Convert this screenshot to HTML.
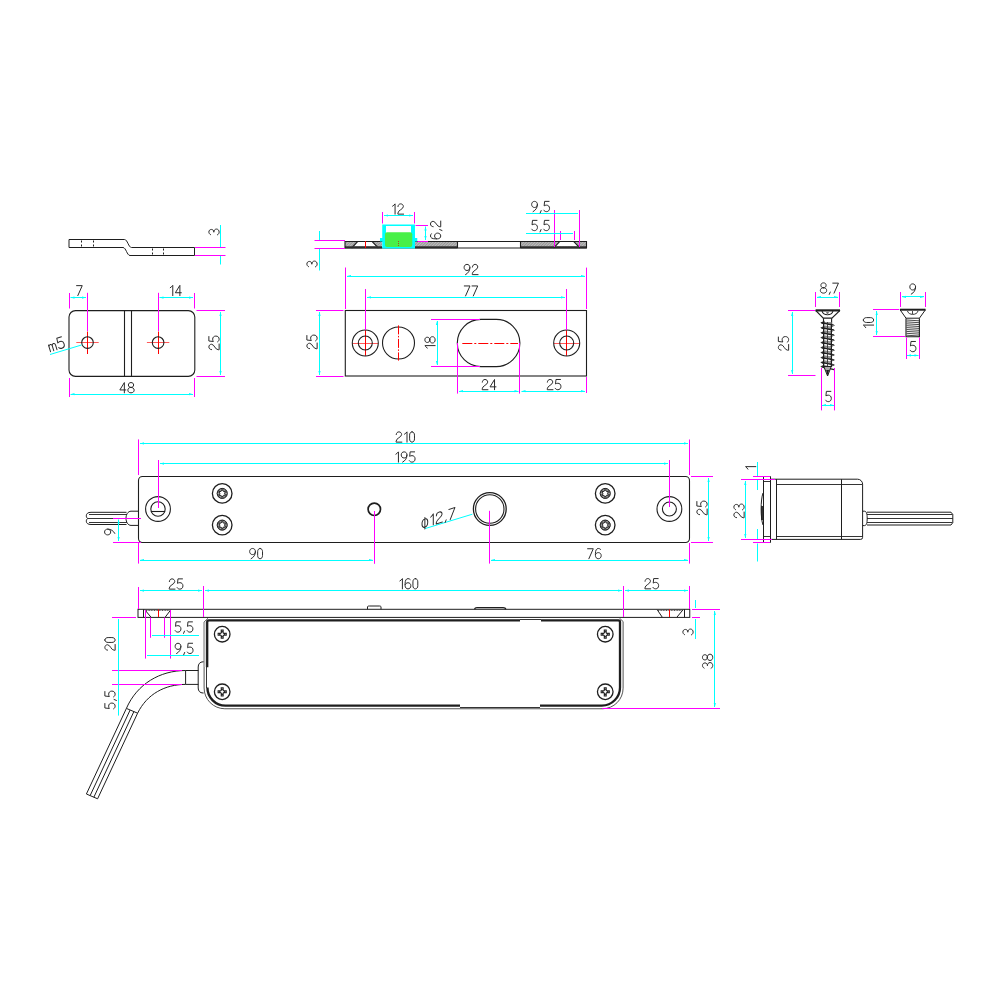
<!DOCTYPE html>
<html><head><meta charset="utf-8"><title>Drawing</title>
<style>html,body{margin:0;padding:0;background:#fff;width:1000px;height:1000px;overflow:hidden;font-family:"Liberation Sans",sans-serif;}svg{display:block;}</style>
</head><body>
<svg width="1000" height="1000" viewBox="0 0 1000 1000"><path d="M69,239.5 H124.5 C127.5,239.5 128.5,247.5 131.5,247.5 H194.5 V255.5 H130 C127,255.5 126,247.5 123,247.5 H69 Z" stroke="#1e1e1e" stroke-width="1.0" fill="none"/>
<line x1="81.5" y1="240.5" x2="81.5" y2="246.5" stroke="#1e1e1e" stroke-width="1.0" stroke-dasharray="2,2"/>
<line x1="93.5" y1="240.5" x2="93.5" y2="246.5" stroke="#1e1e1e" stroke-width="1.0" stroke-dasharray="2,2"/>
<line x1="152.5" y1="248.5" x2="152.5" y2="254.5" stroke="#1e1e1e" stroke-width="1.0" stroke-dasharray="2,2"/>
<line x1="163.5" y1="248.5" x2="163.5" y2="254.5" stroke="#1e1e1e" stroke-width="1.0" stroke-dasharray="2,2"/>
<line x1="195" y1="247.5" x2="225.5" y2="247.5" stroke="#ff00ff" stroke-width="1.0"/>
<line x1="195" y1="255.5" x2="225.5" y2="255.5" stroke="#ff00ff" stroke-width="1.0"/>
<line x1="220.5" y1="225" x2="220.5" y2="247" stroke="#00ffff" stroke-width="1.0"/>
<line x1="220.5" y1="256" x2="220.5" y2="264.5" stroke="#00ffff" stroke-width="1.0"/>
<g transform="translate(214,232) rotate(-90) scale(0.9) translate(-3.25,-5.70)" fill="none" stroke="#2a2a2a" stroke-width="1.11" stroke-linecap="round" stroke-linejoin="round"><path transform="translate(0.00,0)" d="M0.3,1.8 C0.9,0.7 2,0 3.2,0 C4.9,0 6.1,1.1 6.1,2.8 C6.1,4.5 4.9,5.5 3.0,5.5 C5.1,5.5 6.5,6.7 6.5,8.4 C6.5,10.2 5.1,11.4 3.2,11.4 C1.8,11.4 0.7,10.8 0.1,9.6"/></g>
<rect x="69" y="310.6" width="125.8" height="65.8" rx="6.5" fill="none" stroke="#1e1e1e" stroke-width="1.1"/>
<line x1="124.5" y1="310.6" x2="124.5" y2="376.4" stroke="#1e1e1e" stroke-width="1.1"/>
<line x1="131.5" y1="310.6" x2="131.5" y2="376.4" stroke="#1e1e1e" stroke-width="1.1"/>
<line x1="76.3" y1="342.5" x2="98.7" y2="342.5" stroke="#ff5a5a" stroke-width="1.0"/>
<line x1="87.5" y1="331.5" x2="87.5" y2="354" stroke="#ff0000" stroke-width="1.0"/>
<circle cx="87.5" cy="342.6" r="5.8" stroke="#1e1e1e" stroke-width="1.1" fill="none"/>
<line x1="87.5" y1="292.8" x2="87.5" y2="331" stroke="#ff00ff" stroke-width="1.0"/>
<line x1="146.9" y1="342.5" x2="169.29999999999998" y2="342.5" stroke="#ff5a5a" stroke-width="1.0"/>
<line x1="158.5" y1="331.5" x2="158.5" y2="354" stroke="#ff0000" stroke-width="1.0"/>
<circle cx="158.1" cy="342.6" r="5.8" stroke="#1e1e1e" stroke-width="1.1" fill="none"/>
<line x1="158.5" y1="292.8" x2="158.5" y2="331" stroke="#ff00ff" stroke-width="1.0"/>
<line x1="69.5" y1="293" x2="69.5" y2="308.5" stroke="#ff00ff" stroke-width="1.0"/>
<line x1="69.5" y1="378" x2="69.5" y2="397" stroke="#ff00ff" stroke-width="1.0"/>
<line x1="194.5" y1="293" x2="194.5" y2="308.5" stroke="#ff00ff" stroke-width="1.0"/>
<line x1="194.5" y1="378" x2="194.5" y2="397" stroke="#ff00ff" stroke-width="1.0"/>
<line x1="70.5" y1="297.5" x2="86" y2="297.5" stroke="#00ffff" stroke-width="1.0"/>
<path d="M70.50,297.60 L74.50,298.70 L74.50,296.50 Z" fill="#00ffff"/>
<path d="M86.00,297.60 L82.00,298.70 L82.00,296.50 Z" fill="#00ffff"/>
<line x1="159.5" y1="297.5" x2="193" y2="297.5" stroke="#00ffff" stroke-width="1.0"/>
<path d="M159.50,297.60 L163.50,298.70 L163.50,296.50 Z" fill="#00ffff"/>
<path d="M193.00,297.60 L189.00,298.70 L189.00,296.50 Z" fill="#00ffff"/>
<line x1="70.5" y1="394.5" x2="193" y2="394.5" stroke="#00ffff" stroke-width="1.0"/>
<path d="M70.50,394.20 L74.50,395.30 L74.50,393.10 Z" fill="#00ffff"/>
<path d="M193.00,394.20 L189.00,395.30 L189.00,393.10 Z" fill="#00ffff"/>
<line x1="196.5" y1="310.5" x2="225" y2="310.5" stroke="#ff00ff" stroke-width="1.0"/>
<line x1="196.5" y1="376.5" x2="225" y2="376.5" stroke="#ff00ff" stroke-width="1.0"/>
<line x1="220.5" y1="312" x2="220.5" y2="375" stroke="#00ffff" stroke-width="1.0"/>
<path d="M220.50,312.00 L219.40,316.00 L221.60,316.00 Z" fill="#00ffff"/>
<path d="M220.50,375.00 L219.40,371.00 L221.60,371.00 Z" fill="#00ffff"/>
<line x1="50" y1="354.5" x2="81.5" y2="345" stroke="#00ffff" stroke-width="1.0"/>
<g transform="translate(79.4,290.5) scale(0.9) translate(-3.15,-5.70)" fill="none" stroke="#2a2a2a" stroke-width="1.11" stroke-linecap="round" stroke-linejoin="round"><path transform="translate(0.00,0)" d="M0,0.3 H6.3 L1.4,11.4"/></g>
<g transform="translate(175.7,290.5) scale(0.9) translate(-6.25,-5.70)" fill="none" stroke="#2a2a2a" stroke-width="1.11" stroke-linecap="round" stroke-linejoin="round"><path transform="translate(0.00,0)" d="M0.2,2.6 C1.3,1.9 2.3,1.0 3.0,0 V11.4"/><path transform="translate(5.90,0)" d="M5.0,11.4 V0 L0,8.2 H6.6"/></g>
<g transform="translate(127,387.7) scale(0.9) translate(-7.95,-5.70)" fill="none" stroke="#2a2a2a" stroke-width="1.11" stroke-linecap="round" stroke-linejoin="round"><path transform="translate(0.00,0)" d="M5.0,11.4 V0 L0,8.2 H6.6"/><path transform="translate(8.90,0)" d="M3.5,5.4 C1.7,5.4 0.6,4.4 0.6,2.7 C0.6,1.0 1.7,0 3.5,0 C5.3,0 6.4,1.0 6.4,2.7 C6.4,4.4 5.3,5.4 3.5,5.4 C1.4,5.4 0,6.6 0,8.4 C0,10.2 1.4,11.4 3.5,11.4 C5.6,11.4 7,10.2 7,8.4 C7,6.6 5.6,5.4 3.5,5.4 Z"/></g>
<g transform="translate(214,343) rotate(-90) scale(0.9) translate(-7.70,-5.70)" fill="none" stroke="#2a2a2a" stroke-width="1.11" stroke-linecap="round" stroke-linejoin="round"><path transform="translate(0.00,0)" d="M0.3,3.0 C0.4,1.2 1.7,0 3.3,0 C5.0,0 6.3,1.2 6.3,3.0 C6.3,6.0 0.2,7.0 0.2,10.4 V11.4 H6.6"/><path transform="translate(8.90,0)" d="M6.0,0 H1.0 L0.5,5.0 C1.2,4.5 2.1,4.2 3.1,4.2 C5.1,4.2 6.5,5.6 6.5,7.8 C6.5,10 5.1,11.4 3.1,11.4 C1.8,11.4 0.7,10.8 0.1,9.8"/></g>
<g transform="translate(56.2,344.2) rotate(-17) scale(0.9649122807017544) translate(-7.90,-5.70)" fill="none" stroke="#2a2a2a" stroke-width="1.04" stroke-linecap="round" stroke-linejoin="round"><path transform="translate(0.00,0)" d="M0,11.4 V4.2 M0,6.0 C0.4,4.8 1.2,4.2 2,4.2 C3,4.2 3.5,5.0 3.5,6.2 V11.4 M3.5,6.2 C3.7,4.9 4.4,4.2 5.3,4.2 C6.3,4.2 7,5.0 7,6.2 V11.4"/><path transform="translate(9.30,0)" d="M6.0,0 H1.0 L0.5,5.0 C1.2,4.5 2.1,4.2 3.1,4.2 C5.1,4.2 6.5,5.6 6.5,7.8 C6.5,10 5.1,11.4 3.1,11.4 C1.8,11.4 0.7,10.8 0.1,9.8"/></g>
<defs><pattern id="hat" width="2" height="2" patternUnits="userSpaceOnUse" patternTransform="rotate(45)"><rect width="2" height="2" fill="#bdbdbd"/><line x1="0.5" y1="0" x2="0.5" y2="2" stroke="#8c8c8c" stroke-width="0.8"/></pattern></defs>
<rect x="345" y="241" width="37" height="7" fill="url(#hat)"/>
<rect x="415" y="241" width="42.5" height="7" fill="url(#hat)"/>
<rect x="520.4" y="241" width="66.1" height="7" fill="url(#hat)"/>
<path d="M357.2,241.8 L372.4,241.8 L376.2,246.2 L353.8,246.2 Z" fill="#fff"/>
<path d="M559.3,241.8 L574,241.8 L578.6,246.2 L554.2,246.2 Z" fill="#fff"/>
<path d="M357.6,241.6 L351.6,248 M372.2,241.6 L378.4,248" stroke="#1e1e1e" stroke-width="1.1" fill="none"/>
<path d="M559.6,241.6 L553.6,248 M573.8,241.6 L580,248" stroke="#1e1e1e" stroke-width="1.1" fill="none"/>
<rect x="345" y="246.2" width="37" height="2.2" fill="#3a3a3a"/>
<rect x="415" y="246.2" width="42.5" height="2.2" fill="#3a3a3a"/>
<rect x="520.4" y="246.2" width="66.1" height="2.2" fill="#3a3a3a"/>
<path d="M345,241.5 H586.5 V248 H345 Z" stroke="#1e1e1e" stroke-width="1.1" fill="none"/>
<line x1="457.5" y1="241.5" x2="457.5" y2="248" stroke="#1e1e1e" stroke-width="1.1"/>
<line x1="520.5" y1="241.5" x2="520.5" y2="248" stroke="#1e1e1e" stroke-width="1.1"/>
<line x1="365.5" y1="241" x2="365.5" y2="248" stroke="#ff0000" stroke-width="1.0"/>
<rect x="382.25" y="224.5" width="32.75" height="24" fill="#00ffff"/>
<rect x="386" y="226" width="25" height="7" fill="#fff"/>
<rect x="380" y="238" width="37.25" height="3.5" fill="#00ffff"/>
<rect x="385" y="232.25" width="27.25" height="14.75" rx="2" fill="#48f048"/>
<line x1="398.5" y1="241" x2="398.5" y2="246.5" stroke="#a05020" stroke-width="1.0" stroke-dasharray="1,1"/>
<line x1="382.5" y1="212" x2="382.5" y2="223.5" stroke="#ff00ff" stroke-width="1.0"/>
<line x1="414.5" y1="212" x2="414.5" y2="223.5" stroke="#ff00ff" stroke-width="1.0"/>
<line x1="384" y1="215.5" x2="413" y2="215.5" stroke="#00ffff" stroke-width="1.0"/>
<path d="M384.00,215.50 L388.00,216.60 L388.00,214.40 Z" fill="#00ffff"/>
<path d="M413.00,215.50 L409.00,216.60 L409.00,214.40 Z" fill="#00ffff"/>
<line x1="415.5" y1="225.5" x2="428" y2="225.5" stroke="#ff00ff" stroke-width="1.0"/>
<line x1="417.5" y1="241.5" x2="428" y2="241.5" stroke="#ff00ff" stroke-width="1.0"/>
<line x1="425.5" y1="226.5" x2="425.5" y2="240" stroke="#00ffff" stroke-width="1.0"/>
<path d="M425.50,226.50 L424.40,230.50 L426.60,230.50 Z" fill="#00ffff"/>
<path d="M425.50,240.00 L424.40,236.00 L426.60,236.00 Z" fill="#00ffff"/>
<g transform="translate(398,209) scale(0.9) translate(-6.25,-5.70)" fill="none" stroke="#2a2a2a" stroke-width="1.11" stroke-linecap="round" stroke-linejoin="round"><path transform="translate(0.00,0)" d="M0.2,2.6 C1.3,1.9 2.3,1.0 3.0,0 V11.4"/><path transform="translate(5.90,0)" d="M0.3,3.0 C0.4,1.2 1.7,0 3.3,0 C5.0,0 6.3,1.2 6.3,3.0 C6.3,6.0 0.2,7.0 0.2,10.4 V11.4 H6.6"/></g>
<g transform="translate(435.6,230) rotate(-90) scale(0.9) translate(-9.95,-5.70)" fill="none" stroke="#2a2a2a" stroke-width="1.11" stroke-linecap="round" stroke-linejoin="round"><path transform="translate(0.00,0)" d="M5.8,1.0 C5.2,0.4 4.3,0 3.3,0 C1.3,0 0.1,2.0 0.1,5.6 V7.6 C0.1,9.9 1.4,11.4 3.3,11.4 C5.2,11.4 6.5,9.9 6.5,7.9 C6.5,6 5.2,4.6 3.3,4.6 C1.7,4.6 0.5,5.5 0.1,6.8"/><path transform="translate(9.00,0)" d="M1.5,10.2 L0.4,12.8"/><path transform="translate(13.30,0)" d="M0.3,3.0 C0.4,1.2 1.7,0 3.3,0 C5.0,0 6.3,1.2 6.3,3.0 C6.3,6.0 0.2,7.0 0.2,10.4 V11.4 H6.6"/></g>
<line x1="554.5" y1="210" x2="554.5" y2="247" stroke="#ff00ff" stroke-width="1.0"/>
<line x1="579.5" y1="210" x2="579.5" y2="247" stroke="#ff00ff" stroke-width="1.0"/>
<line x1="560.5" y1="231" x2="560.5" y2="240" stroke="#ff00ff" stroke-width="1.0"/>
<line x1="574.5" y1="231" x2="574.5" y2="240" stroke="#ff00ff" stroke-width="1.0"/>
<line x1="526" y1="213.5" x2="578" y2="213.5" stroke="#00ffff" stroke-width="1.0"/>
<line x1="526" y1="233.5" x2="573" y2="233.5" stroke="#00ffff" stroke-width="1.0"/>
<g transform="translate(540.5,206.5) scale(0.9) translate(-10.05,-5.70)" fill="none" stroke="#2a2a2a" stroke-width="1.11" stroke-linecap="round" stroke-linejoin="round"><path transform="translate(0.00,0)" d="M6.6,3.4 C6.6,5.4 5.3,6.8 3.4,6.8 C1.5,6.8 0.2,5.4 0.2,3.4 C0.2,1.4 1.5,0 3.4,0 C5.3,0 6.6,1.4 6.6,3.4 C6.6,7.0 4.8,9.8 1.8,11.4"/><path transform="translate(9.30,0)" d="M1.5,10.2 L0.4,12.8"/><path transform="translate(13.60,0)" d="M6.0,0 H1.0 L0.5,5.0 C1.2,4.5 2.1,4.2 3.1,4.2 C5.1,4.2 6.5,5.6 6.5,7.8 C6.5,10 5.1,11.4 3.1,11.4 C1.8,11.4 0.7,10.8 0.1,9.8"/></g>
<g transform="translate(540.5,225.5) scale(0.9) translate(-9.90,-5.70)" fill="none" stroke="#2a2a2a" stroke-width="1.11" stroke-linecap="round" stroke-linejoin="round"><path transform="translate(0.00,0)" d="M6.0,0 H1.0 L0.5,5.0 C1.2,4.5 2.1,4.2 3.1,4.2 C5.1,4.2 6.5,5.6 6.5,7.8 C6.5,10 5.1,11.4 3.1,11.4 C1.8,11.4 0.7,10.8 0.1,9.8"/><path transform="translate(9.00,0)" d="M1.5,10.2 L0.4,12.8"/><path transform="translate(13.30,0)" d="M6.0,0 H1.0 L0.5,5.0 C1.2,4.5 2.1,4.2 3.1,4.2 C5.1,4.2 6.5,5.6 6.5,7.8 C6.5,10 5.1,11.4 3.1,11.4 C1.8,11.4 0.7,10.8 0.1,9.8"/></g>
<line x1="314.5" y1="240.5" x2="345" y2="240.5" stroke="#ff00ff" stroke-width="1.0"/>
<line x1="314.5" y1="248.5" x2="345" y2="248.5" stroke="#ff00ff" stroke-width="1.0"/>
<line x1="319.5" y1="231" x2="319.5" y2="240" stroke="#00ffff" stroke-width="1.0"/>
<line x1="319.5" y1="249" x2="319.5" y2="270.5" stroke="#00ffff" stroke-width="1.0"/>
<g transform="translate(312,264) rotate(-90) scale(0.9) translate(-3.25,-5.70)" fill="none" stroke="#2a2a2a" stroke-width="1.11" stroke-linecap="round" stroke-linejoin="round"><path transform="translate(0.00,0)" d="M0.3,1.8 C0.9,0.7 2,0 3.2,0 C4.9,0 6.1,1.1 6.1,2.8 C6.1,4.5 4.9,5.5 3.0,5.5 C5.1,5.5 6.5,6.7 6.5,8.4 C6.5,10.2 5.1,11.4 3.2,11.4 C1.8,11.4 0.7,10.8 0.1,9.6"/></g>
<rect x="345.3" y="310.5" width="241.2" height="65.5" fill="none" stroke="#1e1e1e" stroke-width="1.1"/>
<line x1="352.5" y1="343.5" x2="378.1" y2="343.5" stroke="#ff5a5a" stroke-width="1.0"/>
<line x1="365.5" y1="330.2" x2="365.5" y2="355.8" stroke="#ff0000" stroke-width="1.0"/>
<circle cx="365.3" cy="343" r="13" stroke="#1e1e1e" stroke-width="1.1" fill="none"/>
<circle cx="365.3" cy="343" r="7" stroke="#1e1e1e" stroke-width="1.1" fill="none"/>
<line x1="365.5" y1="289" x2="365.5" y2="330" stroke="#ff00ff" stroke-width="1.0"/>
<line x1="553.9000000000001" y1="343.5" x2="579.5" y2="343.5" stroke="#ff5a5a" stroke-width="1.0"/>
<line x1="566.5" y1="330.2" x2="566.5" y2="355.8" stroke="#ff0000" stroke-width="1.0"/>
<circle cx="566.7" cy="343" r="13" stroke="#1e1e1e" stroke-width="1.1" fill="none"/>
<circle cx="566.7" cy="343" r="7" stroke="#1e1e1e" stroke-width="1.1" fill="none"/>
<line x1="566.5" y1="289" x2="566.5" y2="330" stroke="#ff00ff" stroke-width="1.0"/>
<circle cx="398.5" cy="343" r="16" stroke="#1e1e1e" stroke-width="1.1" fill="none"/>
<line x1="398.5" y1="325.4" x2="398.5" y2="360.6" stroke="#ff0000" stroke-width="1.0" stroke-dasharray="9,1.5,1.5,1.5"/>
<path d="M480.9,319.4 H496.3 A23.6,23.6 0 0 1 496.3,366.6 H480.9 A23.6,23.6 0 0 1 480.9,319.4 Z" stroke="#1e1e1e" stroke-width="1.1" fill="none"/>
<line x1="462.3" y1="343.5" x2="518" y2="343.5" stroke="#ff0000" stroke-width="1.0" stroke-dasharray="10,2,2,2"/>
<line x1="345.5" y1="267.5" x2="345.5" y2="309" stroke="#ff00ff" stroke-width="1.0"/>
<line x1="586.5" y1="267.6" x2="586.5" y2="309" stroke="#ff00ff" stroke-width="1.0"/>
<line x1="586.5" y1="377" x2="586.5" y2="393" stroke="#ff00ff" stroke-width="1.0"/>
<line x1="457.5" y1="343" x2="457.5" y2="393.6" stroke="#ff00ff" stroke-width="1.0"/>
<line x1="519.5" y1="343" x2="519.5" y2="393.6" stroke="#ff00ff" stroke-width="1.0"/>
<line x1="316" y1="310.5" x2="343.5" y2="310.5" stroke="#ff00ff" stroke-width="1.0"/>
<line x1="316" y1="376.5" x2="343.5" y2="376.5" stroke="#ff00ff" stroke-width="1.0"/>
<line x1="431" y1="319.5" x2="480" y2="319.5" stroke="#ff00ff" stroke-width="1.0"/>
<line x1="431" y1="366.5" x2="480" y2="366.5" stroke="#ff00ff" stroke-width="1.0"/>
<line x1="347" y1="276.5" x2="585" y2="276.5" stroke="#00ffff" stroke-width="1.0"/>
<path d="M347.00,276.00 L351.00,277.10 L351.00,274.90 Z" fill="#00ffff"/>
<path d="M585.00,276.00 L581.00,277.10 L581.00,274.90 Z" fill="#00ffff"/>
<line x1="367" y1="297.5" x2="565" y2="297.5" stroke="#00ffff" stroke-width="1.0"/>
<path d="M367.00,297.30 L371.00,298.40 L371.00,296.20 Z" fill="#00ffff"/>
<path d="M565.00,297.30 L561.00,298.40 L561.00,296.20 Z" fill="#00ffff"/>
<line x1="319.5" y1="312" x2="319.5" y2="375" stroke="#00ffff" stroke-width="1.0"/>
<path d="M319.50,312.00 L318.40,316.00 L320.60,316.00 Z" fill="#00ffff"/>
<path d="M319.50,375.00 L318.40,371.00 L320.60,371.00 Z" fill="#00ffff"/>
<line x1="437.5" y1="321" x2="437.5" y2="365" stroke="#00ffff" stroke-width="1.0"/>
<path d="M437.00,321.00 L435.90,325.00 L438.10,325.00 Z" fill="#00ffff"/>
<path d="M437.00,365.00 L435.90,361.00 L438.10,361.00 Z" fill="#00ffff"/>
<line x1="459" y1="391.5" x2="518.5" y2="391.5" stroke="#00ffff" stroke-width="1.0"/>
<path d="M459.00,391.20 L463.00,392.30 L463.00,390.10 Z" fill="#00ffff"/>
<path d="M518.50,391.20 L514.50,392.30 L514.50,390.10 Z" fill="#00ffff"/>
<line x1="521.5" y1="391.5" x2="585" y2="391.5" stroke="#00ffff" stroke-width="1.0"/>
<path d="M521.50,391.20 L525.50,392.30 L525.50,390.10 Z" fill="#00ffff"/>
<path d="M585.00,391.20 L581.00,392.30 L581.00,390.10 Z" fill="#00ffff"/>
<g transform="translate(471,269.5) scale(0.9) translate(-7.85,-5.70)" fill="none" stroke="#2a2a2a" stroke-width="1.11" stroke-linecap="round" stroke-linejoin="round"><path transform="translate(0.00,0)" d="M6.6,3.4 C6.6,5.4 5.3,6.8 3.4,6.8 C1.5,6.8 0.2,5.4 0.2,3.4 C0.2,1.4 1.5,0 3.4,0 C5.3,0 6.6,1.4 6.6,3.4 C6.6,7.0 4.8,9.8 1.8,11.4"/><path transform="translate(9.10,0)" d="M0.3,3.0 C0.4,1.2 1.7,0 3.3,0 C5.0,0 6.3,1.2 6.3,3.0 C6.3,6.0 0.2,7.0 0.2,10.4 V11.4 H6.6"/></g>
<g transform="translate(471,290.8) scale(0.9) translate(-7.45,-5.70)" fill="none" stroke="#2a2a2a" stroke-width="1.11" stroke-linecap="round" stroke-linejoin="round"><path transform="translate(0.00,0)" d="M0,0.3 H6.3 L1.4,11.4"/><path transform="translate(8.60,0)" d="M0,0.3 H6.3 L1.4,11.4"/></g>
<g transform="translate(312,342) rotate(-90) scale(0.9) translate(-7.70,-5.70)" fill="none" stroke="#2a2a2a" stroke-width="1.11" stroke-linecap="round" stroke-linejoin="round"><path transform="translate(0.00,0)" d="M0.3,3.0 C0.4,1.2 1.7,0 3.3,0 C5.0,0 6.3,1.2 6.3,3.0 C6.3,6.0 0.2,7.0 0.2,10.4 V11.4 H6.6"/><path transform="translate(8.90,0)" d="M6.0,0 H1.0 L0.5,5.0 C1.2,4.5 2.1,4.2 3.1,4.2 C5.1,4.2 6.5,5.6 6.5,7.8 C6.5,10 5.1,11.4 3.1,11.4 C1.8,11.4 0.7,10.8 0.1,9.8"/></g>
<g transform="translate(430,342.5) rotate(-90) scale(0.9) translate(-6.45,-5.70)" fill="none" stroke="#2a2a2a" stroke-width="1.11" stroke-linecap="round" stroke-linejoin="round"><path transform="translate(0.00,0)" d="M0.2,2.6 C1.3,1.9 2.3,1.0 3.0,0 V11.4"/><path transform="translate(5.90,0)" d="M3.5,5.4 C1.7,5.4 0.6,4.4 0.6,2.7 C0.6,1.0 1.7,0 3.5,0 C5.3,0 6.4,1.0 6.4,2.7 C6.4,4.4 5.3,5.4 3.5,5.4 C1.4,5.4 0,6.6 0,8.4 C0,10.2 1.4,11.4 3.5,11.4 C5.6,11.4 7,10.2 7,8.4 C7,6.6 5.6,5.4 3.5,5.4 Z"/></g>
<g transform="translate(489,384.6) scale(0.9) translate(-7.75,-5.70)" fill="none" stroke="#2a2a2a" stroke-width="1.11" stroke-linecap="round" stroke-linejoin="round"><path transform="translate(0.00,0)" d="M0.3,3.0 C0.4,1.2 1.7,0 3.3,0 C5.0,0 6.3,1.2 6.3,3.0 C6.3,6.0 0.2,7.0 0.2,10.4 V11.4 H6.6"/><path transform="translate(8.90,0)" d="M5.0,11.4 V0 L0,8.2 H6.6"/></g>
<g transform="translate(554,384.6) scale(0.9) translate(-7.70,-5.70)" fill="none" stroke="#2a2a2a" stroke-width="1.11" stroke-linecap="round" stroke-linejoin="round"><path transform="translate(0.00,0)" d="M0.3,3.0 C0.4,1.2 1.7,0 3.3,0 C5.0,0 6.3,1.2 6.3,3.0 C6.3,6.0 0.2,7.0 0.2,10.4 V11.4 H6.6"/><path transform="translate(8.90,0)" d="M6.0,0 H1.0 L0.5,5.0 C1.2,4.5 2.1,4.2 3.1,4.2 C5.1,4.2 6.5,5.6 6.5,7.8 C6.5,10 5.1,11.4 3.1,11.4 C1.8,11.4 0.7,10.8 0.1,9.8"/></g>
<path d="M815.6,310.4 H840" stroke="#1e1e1e" stroke-width="2.2" fill="none"/>
<path d="M815.6,310.4 L823.3,318.2 H831.9 L840,310.4" stroke="#1e1e1e" stroke-width="1.2" fill="none"/>
<path d="M822,311.2 C823.5,316 831.5,316 833,311.2" stroke="#1e1e1e" stroke-width="1.1" fill="none"/>
<path d="M826,312 L827.5,315.3 L829,312 Z" fill="#777"/>
<path d="M823.5,318.2 V322.5 M831.6,318.2 V324" stroke="#1e1e1e" stroke-width="1.1" fill="none"/>
<rect x="823.5" y="322" width="8" height="45" fill="#9a9a9a"/>
<path d="M824.5,320.8 L820.3,322.8 L824.5,324.8 Z" fill="#1e1e1e"/>
<path d="M824.5,325.8 L820.3,327.8 L824.5,329.8 Z" fill="#1e1e1e"/>
<path d="M824.5,330.7 L820.3,332.7 L824.5,334.7 Z" fill="#1e1e1e"/>
<path d="M824.5,335.6 L820.3,337.6 L824.5,339.6 Z" fill="#1e1e1e"/>
<path d="M824.5,340.6 L820.3,342.6 L824.5,344.6 Z" fill="#1e1e1e"/>
<path d="M824.5,345.6 L820.3,347.6 L824.5,349.6 Z" fill="#1e1e1e"/>
<path d="M824.5,350.6 L820.3,352.6 L824.5,354.6 Z" fill="#1e1e1e"/>
<path d="M824.5,355.6 L820.3,357.6 L824.5,359.6 Z" fill="#1e1e1e"/>
<path d="M824.5,360.4 L820.3,362.4 L824.5,364.4 Z" fill="#1e1e1e"/>
<path d="M824.5,364.6 L820.3,366.6 L824.5,368.6 Z" fill="#1e1e1e"/>
<path d="M830.5,323.4 L835.0,325.4 L830.5,327.4 Z" fill="#1e1e1e"/>
<path d="M830.5,328.2 L835.0,330.2 L830.5,332.2 Z" fill="#1e1e1e"/>
<path d="M830.5,333.2 L835.0,335.2 L830.5,337.2 Z" fill="#1e1e1e"/>
<path d="M830.5,338.2 L835.0,340.2 L830.5,342.2 Z" fill="#1e1e1e"/>
<path d="M830.5,343.2 L835.0,345.2 L830.5,347.2 Z" fill="#1e1e1e"/>
<path d="M830.5,348.2 L835.0,350.2 L830.5,352.2 Z" fill="#1e1e1e"/>
<path d="M830.5,353.0 L835.0,355.0 L830.5,357.0 Z" fill="#1e1e1e"/>
<path d="M830.5,358.0 L835.0,360.0 L830.5,362.0 Z" fill="#1e1e1e"/>
<path d="M830.5,363.0 L835.0,365.0 L830.5,367.0 Z" fill="#1e1e1e"/>
<line x1="821.5" y1="322.8" x2="834" y2="325.4" stroke="#1e1e1e" stroke-width="1.4"/>
<line x1="834" y1="325.4" x2="821.5" y2="327.6" stroke="#888" stroke-width="0.9"/>
<path d="M824.5,324.8 L830.5,326.0" stroke="#fff" stroke-width="1.1"/>
<line x1="821.5" y1="327.8" x2="834" y2="330.2" stroke="#1e1e1e" stroke-width="1.4"/>
<line x1="834" y1="330.2" x2="821.5" y2="332.5" stroke="#888" stroke-width="0.9"/>
<path d="M824.5,329.8 L830.5,330.8" stroke="#fff" stroke-width="1.1"/>
<line x1="821.5" y1="332.7" x2="834" y2="335.2" stroke="#1e1e1e" stroke-width="1.4"/>
<line x1="834" y1="335.2" x2="821.5" y2="337.40000000000003" stroke="#888" stroke-width="0.9"/>
<path d="M824.5,334.7 L830.5,335.8" stroke="#fff" stroke-width="1.1"/>
<line x1="821.5" y1="337.6" x2="834" y2="340.2" stroke="#1e1e1e" stroke-width="1.4"/>
<line x1="834" y1="340.2" x2="821.5" y2="342.40000000000003" stroke="#888" stroke-width="0.9"/>
<path d="M824.5,339.6 L830.5,340.8" stroke="#fff" stroke-width="1.1"/>
<line x1="821.5" y1="342.6" x2="834" y2="345.2" stroke="#1e1e1e" stroke-width="1.4"/>
<line x1="834" y1="345.2" x2="821.5" y2="347.40000000000003" stroke="#888" stroke-width="0.9"/>
<path d="M824.5,344.6 L830.5,345.8" stroke="#fff" stroke-width="1.1"/>
<line x1="821.5" y1="347.6" x2="834" y2="350.2" stroke="#1e1e1e" stroke-width="1.4"/>
<line x1="834" y1="350.2" x2="821.5" y2="352.40000000000003" stroke="#888" stroke-width="0.9"/>
<path d="M824.5,349.6 L830.5,350.8" stroke="#fff" stroke-width="1.1"/>
<line x1="821.5" y1="352.6" x2="834" y2="355.0" stroke="#1e1e1e" stroke-width="1.4"/>
<line x1="834" y1="355.0" x2="821.5" y2="357.40000000000003" stroke="#888" stroke-width="0.9"/>
<path d="M824.5,354.6 L830.5,355.6" stroke="#fff" stroke-width="1.1"/>
<line x1="821.5" y1="357.6" x2="834" y2="360.0" stroke="#1e1e1e" stroke-width="1.4"/>
<line x1="834" y1="360.0" x2="821.5" y2="362.2" stroke="#888" stroke-width="0.9"/>
<path d="M824.5,359.6 L830.5,360.6" stroke="#fff" stroke-width="1.1"/>
<line x1="821.5" y1="362.4" x2="834" y2="365.0" stroke="#1e1e1e" stroke-width="1.4"/>
<line x1="834" y1="365.0" x2="821.5" y2="366.40000000000003" stroke="#888" stroke-width="0.9"/>
<path d="M824.5,364.4 L830.5,365.6" stroke="#fff" stroke-width="1.1"/>
<line x1="821.5" y1="366.6" x2="834" y2="369.6" stroke="#1e1e1e" stroke-width="1.4"/>
<path d="M824.5,368.6 L830.5,370.20000000000005" stroke="#fff" stroke-width="1.1"/>
<line x1="823.5" y1="322" x2="823.5" y2="367" stroke="#1e1e1e" stroke-width="1.0"/>
<line x1="831.5" y1="324" x2="831.5" y2="367" stroke="#1e1e1e" stroke-width="1.0"/>
<line x1="827.5" y1="322" x2="827.5" y2="368" stroke="#333" stroke-width="0.9"/>
<path d="M823.8,366.5 L827.6,376 L831.2,366.5 Z" fill="#aaa" stroke="#1e1e1e" stroke-width="1.0"/>
<path d="M826.2,370 L827.6,375.5 L829,370 Z" fill="#1e1e1e"/>
<line x1="815.5" y1="292" x2="815.5" y2="307" stroke="#ff00ff" stroke-width="1.0"/>
<line x1="839.5" y1="292" x2="839.5" y2="307" stroke="#ff00ff" stroke-width="1.0"/>
<line x1="817" y1="297.5" x2="838" y2="297.5" stroke="#00ffff" stroke-width="1.0"/>
<path d="M817.00,297.00 L821.00,298.10 L821.00,295.90 Z" fill="#00ffff"/>
<path d="M838.00,297.00 L834.00,298.10 L834.00,295.90 Z" fill="#00ffff"/>
<line x1="788" y1="310.5" x2="815" y2="310.5" stroke="#ff00ff" stroke-width="1.0"/>
<line x1="788" y1="375.5" x2="815.5" y2="375.5" stroke="#ff00ff" stroke-width="1.0"/>
<line x1="792.5" y1="312" x2="792.5" y2="374" stroke="#00ffff" stroke-width="1.0"/>
<path d="M792.20,312.00 L791.10,316.00 L793.30,316.00 Z" fill="#00ffff"/>
<path d="M792.20,374.00 L791.10,370.00 L793.30,370.00 Z" fill="#00ffff"/>
<line x1="821.5" y1="368" x2="821.5" y2="410.4" stroke="#ff00ff" stroke-width="1.0"/>
<line x1="834.5" y1="368" x2="834.5" y2="410.4" stroke="#ff00ff" stroke-width="1.0"/>
<line x1="822" y1="405.5" x2="834" y2="405.5" stroke="#00ffff" stroke-width="1.0"/>
<path d="M822.00,405.20 L826.00,406.30 L826.00,404.10 Z" fill="#00ffff"/>
<path d="M834.00,405.20 L830.00,406.30 L830.00,404.10 Z" fill="#00ffff"/>
<g transform="translate(829.4,288) scale(0.9) translate(-10.05,-5.70)" fill="none" stroke="#2a2a2a" stroke-width="1.11" stroke-linecap="round" stroke-linejoin="round"><path transform="translate(0.00,0)" d="M3.5,5.4 C1.7,5.4 0.6,4.4 0.6,2.7 C0.6,1.0 1.7,0 3.5,0 C5.3,0 6.4,1.0 6.4,2.7 C6.4,4.4 5.3,5.4 3.5,5.4 C1.4,5.4 0,6.6 0,8.4 C0,10.2 1.4,11.4 3.5,11.4 C5.6,11.4 7,10.2 7,8.4 C7,6.6 5.6,5.4 3.5,5.4 Z"/><path transform="translate(9.50,0)" d="M1.5,10.2 L0.4,12.8"/><path transform="translate(13.80,0)" d="M0,0.3 H6.3 L1.4,11.4"/></g>
<g transform="translate(783.5,343.5) rotate(-90) scale(0.9) translate(-7.70,-5.70)" fill="none" stroke="#2a2a2a" stroke-width="1.11" stroke-linecap="round" stroke-linejoin="round"><path transform="translate(0.00,0)" d="M0.3,3.0 C0.4,1.2 1.7,0 3.3,0 C5.0,0 6.3,1.2 6.3,3.0 C6.3,6.0 0.2,7.0 0.2,10.4 V11.4 H6.6"/><path transform="translate(8.90,0)" d="M6.0,0 H1.0 L0.5,5.0 C1.2,4.5 2.1,4.2 3.1,4.2 C5.1,4.2 6.5,5.6 6.5,7.8 C6.5,10 5.1,11.4 3.1,11.4 C1.8,11.4 0.7,10.8 0.1,9.8"/></g>
<g transform="translate(828.4,396.5) scale(0.9) translate(-3.25,-5.70)" fill="none" stroke="#2a2a2a" stroke-width="1.11" stroke-linecap="round" stroke-linejoin="round"><path transform="translate(0.00,0)" d="M6.0,0 H1.0 L0.5,5.0 C1.2,4.5 2.1,4.2 3.1,4.2 C5.1,4.2 6.5,5.6 6.5,7.8 C6.5,10 5.1,11.4 3.1,11.4 C1.8,11.4 0.7,10.8 0.1,9.8"/></g>
<path d="M900,309.7 H925.5" stroke="#1e1e1e" stroke-width="2.0" fill="none"/>
<path d="M900,309.7 L906,318.2 H919.4 L925.5,309.7" stroke="#1e1e1e" stroke-width="1.0" fill="none"/>
<path d="M906,318.2 V336.7 H919.4 V318.2" stroke="#1e1e1e" stroke-width="1.1" fill="none"/>
<path d="M907.5,311 C908.5,315.5 917,315.5 918,311" stroke="#1e1e1e" stroke-width="0.9" fill="none"/>
<line x1="912.5" y1="311" x2="912.5" y2="314" stroke="#1e1e1e" stroke-width="0.8"/>
<line x1="906.5" y1="320" x2="919" y2="320.8" stroke="#1e1e1e" stroke-width="0.8"/>
<line x1="906.5" y1="321.9" x2="919" y2="322.7" stroke="#1e1e1e" stroke-width="0.8"/>
<line x1="906.5" y1="323.79999999999995" x2="919" y2="324.59999999999997" stroke="#1e1e1e" stroke-width="0.8"/>
<line x1="906.5" y1="325.69999999999993" x2="919" y2="326.49999999999994" stroke="#1e1e1e" stroke-width="0.8"/>
<line x1="906.5" y1="327.5999999999999" x2="919" y2="328.3999999999999" stroke="#1e1e1e" stroke-width="0.8"/>
<line x1="906.5" y1="329.4999999999999" x2="919" y2="330.2999999999999" stroke="#1e1e1e" stroke-width="0.8"/>
<line x1="906.5" y1="331.39999999999986" x2="919" y2="332.1999999999999" stroke="#1e1e1e" stroke-width="0.8"/>
<line x1="906.5" y1="333.29999999999984" x2="919" y2="334.09999999999985" stroke="#1e1e1e" stroke-width="0.8"/>
<line x1="906.5" y1="335.1999999999998" x2="919" y2="335.99999999999983" stroke="#1e1e1e" stroke-width="0.8"/>
<line x1="900.5" y1="292" x2="900.5" y2="307" stroke="#ff00ff" stroke-width="1.0"/>
<line x1="925.5" y1="292" x2="925.5" y2="307" stroke="#ff00ff" stroke-width="1.0"/>
<line x1="902" y1="296.5" x2="924" y2="296.5" stroke="#00ffff" stroke-width="1.0"/>
<path d="M902.00,296.90 L906.00,298.00 L906.00,295.80 Z" fill="#00ffff"/>
<path d="M924.00,296.90 L920.00,298.00 L920.00,295.80 Z" fill="#00ffff"/>
<line x1="873" y1="309.5" x2="899" y2="309.5" stroke="#ff00ff" stroke-width="1.0"/>
<line x1="873" y1="336.5" x2="905" y2="336.5" stroke="#ff00ff" stroke-width="1.0"/>
<line x1="876.5" y1="311" x2="876.5" y2="335" stroke="#00ffff" stroke-width="1.0"/>
<path d="M876.70,311.00 L875.60,315.00 L877.80,315.00 Z" fill="#00ffff"/>
<path d="M876.70,335.00 L875.60,331.00 L877.80,331.00 Z" fill="#00ffff"/>
<line x1="906.5" y1="337.5" x2="906.5" y2="359" stroke="#ff00ff" stroke-width="1.0"/>
<line x1="919.5" y1="337.5" x2="919.5" y2="359" stroke="#ff00ff" stroke-width="1.0"/>
<line x1="907" y1="355.5" x2="918.5" y2="355.5" stroke="#00ffff" stroke-width="1.0"/>
<path d="M907.00,355.40 L911.00,356.50 L911.00,354.30 Z" fill="#00ffff"/>
<path d="M918.50,355.40 L914.50,356.50 L914.50,354.30 Z" fill="#00ffff"/>
<g transform="translate(912.7,289) scale(0.9) translate(-3.40,-5.70)" fill="none" stroke="#2a2a2a" stroke-width="1.11" stroke-linecap="round" stroke-linejoin="round"><path transform="translate(0.00,0)" d="M6.6,3.4 C6.6,5.4 5.3,6.8 3.4,6.8 C1.5,6.8 0.2,5.4 0.2,3.4 C0.2,1.4 1.5,0 3.4,0 C5.3,0 6.6,1.4 6.6,3.4 C6.6,7.0 4.8,9.8 1.8,11.4"/></g>
<g transform="translate(868.5,322.7) rotate(-90) scale(0.9) translate(-5.65,-5.70)" fill="none" stroke="#2a2a2a" stroke-width="1.11" stroke-linecap="round" stroke-linejoin="round"><path transform="translate(0.00,0)" d="M0.2,2.6 C1.3,1.9 2.3,1.0 3.0,0 V11.4"/><path transform="translate(5.90,0)" d="M2.7,0 C1.0,0 0,1.5 0,3.6 V7.8 C0,9.9 1.0,11.4 2.7,11.4 C4.4,11.4 5.4,9.9 5.4,7.8 V3.6 C5.4,1.5 4.4,0 2.7,0 Z"/></g>
<g transform="translate(913,346.6) scale(0.9) translate(-3.25,-5.70)" fill="none" stroke="#2a2a2a" stroke-width="1.11" stroke-linecap="round" stroke-linejoin="round"><path transform="translate(0.00,0)" d="M6.0,0 H1.0 L0.5,5.0 C1.2,4.5 2.1,4.2 3.1,4.2 C5.1,4.2 6.5,5.6 6.5,7.8 C6.5,10 5.1,11.4 3.1,11.4 C1.8,11.4 0.7,10.8 0.1,9.8"/></g>
<rect x="138.5" y="476.5" width="551" height="66" rx="4" fill="none" stroke="#1e1e1e" stroke-width="1.1"/>
<circle cx="158" cy="509" r="12.4" stroke="#1e1e1e" stroke-width="1.1" fill="none"/>
<circle cx="158" cy="509" r="7.2" stroke="#1e1e1e" stroke-width="1.1" fill="none"/>
<line x1="150.9" y1="511.5" x2="165.1" y2="511.5" stroke="#1e1e1e" stroke-width="1.1"/>
<circle cx="669.4" cy="509" r="12.4" stroke="#1e1e1e" stroke-width="1.1" fill="none"/>
<circle cx="669.4" cy="509" r="7.0" stroke="#1e1e1e" stroke-width="1.1" fill="none"/>
<circle cx="222.2" cy="493.4" r="9.8" stroke="#1e1e1e" stroke-width="1.3" fill="none"/>
<circle cx="222.2" cy="493.4" r="5.4" stroke="#777" stroke-width="0.01" fill="#777"/>
<circle cx="222.2" cy="493.4" r="5.0" stroke="#1e1e1e" stroke-width="1.0" fill="none"/>
<polygon points="222.20,497.10 221.05,495.39 219.00,495.25 219.90,493.40 219.00,491.55 221.05,491.41 222.20,489.70 223.35,491.41 225.40,491.55 224.50,493.40 225.40,495.25 223.35,495.39" fill="#fff" stroke="#1e1e1e" stroke-width="0.9" stroke-linejoin="round"/>
<circle cx="220.25" cy="496.78" r="0.55" fill="#bbb"/>
<circle cx="218.30" cy="493.40" r="0.55" fill="#bbb"/>
<circle cx="220.25" cy="490.02" r="0.55" fill="#bbb"/>
<circle cx="224.15" cy="490.02" r="0.55" fill="#bbb"/>
<circle cx="226.10" cy="493.40" r="0.55" fill="#bbb"/>
<circle cx="224.15" cy="496.78" r="0.55" fill="#bbb"/>
<circle cx="222.2" cy="525.1" r="9.8" stroke="#1e1e1e" stroke-width="1.3" fill="none"/>
<circle cx="222.2" cy="525.1" r="5.4" stroke="#777" stroke-width="0.01" fill="#777"/>
<circle cx="222.2" cy="525.1" r="5.0" stroke="#1e1e1e" stroke-width="1.0" fill="none"/>
<polygon points="222.20,528.80 221.05,527.09 219.00,526.95 219.90,525.10 219.00,523.25 221.05,523.11 222.20,521.40 223.35,523.11 225.40,523.25 224.50,525.10 225.40,526.95 223.35,527.09" fill="#fff" stroke="#1e1e1e" stroke-width="0.9" stroke-linejoin="round"/>
<circle cx="220.25" cy="528.48" r="0.55" fill="#bbb"/>
<circle cx="218.30" cy="525.10" r="0.55" fill="#bbb"/>
<circle cx="220.25" cy="521.72" r="0.55" fill="#bbb"/>
<circle cx="224.15" cy="521.72" r="0.55" fill="#bbb"/>
<circle cx="226.10" cy="525.10" r="0.55" fill="#bbb"/>
<circle cx="224.15" cy="528.48" r="0.55" fill="#bbb"/>
<circle cx="605.2" cy="493.4" r="9.8" stroke="#1e1e1e" stroke-width="1.3" fill="none"/>
<circle cx="605.2" cy="493.4" r="5.4" stroke="#777" stroke-width="0.01" fill="#777"/>
<circle cx="605.2" cy="493.4" r="5.0" stroke="#1e1e1e" stroke-width="1.0" fill="none"/>
<polygon points="605.20,497.10 604.05,495.39 602.00,495.25 602.90,493.40 602.00,491.55 604.05,491.41 605.20,489.70 606.35,491.41 608.40,491.55 607.50,493.40 608.40,495.25 606.35,495.39" fill="#fff" stroke="#1e1e1e" stroke-width="0.9" stroke-linejoin="round"/>
<circle cx="603.25" cy="496.78" r="0.55" fill="#bbb"/>
<circle cx="601.30" cy="493.40" r="0.55" fill="#bbb"/>
<circle cx="603.25" cy="490.02" r="0.55" fill="#bbb"/>
<circle cx="607.15" cy="490.02" r="0.55" fill="#bbb"/>
<circle cx="609.10" cy="493.40" r="0.55" fill="#bbb"/>
<circle cx="607.15" cy="496.78" r="0.55" fill="#bbb"/>
<circle cx="605.2" cy="525.1" r="9.8" stroke="#1e1e1e" stroke-width="1.3" fill="none"/>
<circle cx="605.2" cy="525.1" r="5.4" stroke="#777" stroke-width="0.01" fill="#777"/>
<circle cx="605.2" cy="525.1" r="5.0" stroke="#1e1e1e" stroke-width="1.0" fill="none"/>
<polygon points="605.20,528.80 604.05,527.09 602.00,526.95 602.90,525.10 602.00,523.25 604.05,523.11 605.20,521.40 606.35,523.11 608.40,523.25 607.50,525.10 608.40,526.95 606.35,527.09" fill="#fff" stroke="#1e1e1e" stroke-width="0.9" stroke-linejoin="round"/>
<circle cx="603.25" cy="528.48" r="0.55" fill="#bbb"/>
<circle cx="601.30" cy="525.10" r="0.55" fill="#bbb"/>
<circle cx="603.25" cy="521.72" r="0.55" fill="#bbb"/>
<circle cx="607.15" cy="521.72" r="0.55" fill="#bbb"/>
<circle cx="609.10" cy="525.10" r="0.55" fill="#bbb"/>
<circle cx="607.15" cy="528.48" r="0.55" fill="#bbb"/>
<circle cx="374.3" cy="509.3" r="6.2" stroke="#1e1e1e" stroke-width="1.7" fill="none"/>
<circle cx="489.8" cy="509" r="16.4" stroke="#1e1e1e" stroke-width="1.3" fill="none"/>
<circle cx="489.8" cy="509" r="14.2" stroke="#1e1e1e" stroke-width="1.1" fill="none"/>
<path d="M126.5,512.3 H91 C88,512.3 86.3,513.6 86.3,515.8 C86.3,517.4 87,518.2 87.8,518.5 C87,518.8 86.3,519.7 86.3,521.2 C86.3,523.3 88,524.5 91,524.5 H126.5" stroke="#1e1e1e" stroke-width="1.0" fill="none"/>
<line x1="89" y1="514.5" x2="127" y2="514.5" stroke="#1e1e1e" stroke-width="0.9"/>
<line x1="88" y1="518.5" x2="126" y2="518.5" stroke="#1e1e1e" stroke-width="0.9"/>
<line x1="89" y1="522.5" x2="127" y2="522.5" stroke="#1e1e1e" stroke-width="0.9"/>
<path d="M138.4,511.2 H131 C128,511.2 126,514.5 126,518.3 C126,522.1 128,525.4 131,525.4 H138.4" stroke="#1e1e1e" stroke-width="1.0" fill="none"/>
<line x1="138.5" y1="439.4" x2="138.5" y2="475" stroke="#ff00ff" stroke-width="1.0"/>
<line x1="138.5" y1="543" x2="138.5" y2="563.6" stroke="#ff00ff" stroke-width="1.0"/>
<line x1="158.5" y1="460" x2="158.5" y2="508" stroke="#ff00ff" stroke-width="1.0"/>
<line x1="669.5" y1="460" x2="669.5" y2="507" stroke="#ff00ff" stroke-width="1.0"/>
<line x1="689.5" y1="439.5" x2="689.5" y2="475" stroke="#ff00ff" stroke-width="1.0"/>
<line x1="689.5" y1="543" x2="689.5" y2="563.6" stroke="#ff00ff" stroke-width="1.0"/>
<line x1="374.5" y1="511" x2="374.5" y2="563.8" stroke="#ff00ff" stroke-width="1.0"/>
<line x1="489.5" y1="510.8" x2="489.5" y2="563.6" stroke="#ff00ff" stroke-width="1.0"/>
<line x1="113" y1="518.5" x2="141" y2="518.5" stroke="#ff00ff" stroke-width="1.0"/>
<line x1="113" y1="542.5" x2="141" y2="542.5" stroke="#ff00ff" stroke-width="1.0"/>
<line x1="691" y1="476.5" x2="713" y2="476.5" stroke="#ff00ff" stroke-width="1.0"/>
<line x1="691" y1="542.5" x2="713" y2="542.5" stroke="#ff00ff" stroke-width="1.0"/>
<line x1="140" y1="443.5" x2="688" y2="443.5" stroke="#00ffff" stroke-width="1.0"/>
<path d="M140.00,443.40 L144.00,444.50 L144.00,442.30 Z" fill="#00ffff"/>
<path d="M688.00,443.40 L684.00,444.50 L684.00,442.30 Z" fill="#00ffff"/>
<line x1="160" y1="463.5" x2="668" y2="463.5" stroke="#00ffff" stroke-width="1.0"/>
<path d="M160.00,463.60 L164.00,464.70 L164.00,462.50 Z" fill="#00ffff"/>
<path d="M668.00,463.60 L664.00,464.70 L664.00,462.50 Z" fill="#00ffff"/>
<line x1="140" y1="560.5" x2="373" y2="560.5" stroke="#00ffff" stroke-width="1.0"/>
<path d="M140.00,560.00 L144.00,561.10 L144.00,558.90 Z" fill="#00ffff"/>
<path d="M373.00,560.00 L369.00,561.10 L369.00,558.90 Z" fill="#00ffff"/>
<line x1="491" y1="560.5" x2="688" y2="560.5" stroke="#00ffff" stroke-width="1.0"/>
<path d="M491.00,560.00 L495.00,561.10 L495.00,558.90 Z" fill="#00ffff"/>
<path d="M688.00,560.00 L684.00,561.10 L684.00,558.90 Z" fill="#00ffff"/>
<line x1="118.5" y1="519.5" x2="118.5" y2="541" stroke="#00ffff" stroke-width="1.0"/>
<path d="M118.60,519.50 L117.50,523.50 L119.70,523.50 Z" fill="#00ffff"/>
<path d="M118.60,541.00 L117.50,537.00 L119.70,537.00 Z" fill="#00ffff"/>
<line x1="708.5" y1="478" x2="708.5" y2="541" stroke="#00ffff" stroke-width="1.0"/>
<path d="M708.60,478.00 L707.50,482.00 L709.70,482.00 Z" fill="#00ffff"/>
<path d="M708.60,541.00 L707.50,537.00 L709.70,537.00 Z" fill="#00ffff"/>
<line x1="425" y1="528.6" x2="472.4" y2="514.2" stroke="#00ffff" stroke-width="1.0"/>
<g transform="translate(405.2,437) scale(0.9) translate(-10.30,-5.70)" fill="none" stroke="#2a2a2a" stroke-width="1.11" stroke-linecap="round" stroke-linejoin="round"><path transform="translate(0.00,0)" d="M0.3,3.0 C0.4,1.2 1.7,0 3.3,0 C5.0,0 6.3,1.2 6.3,3.0 C6.3,6.0 0.2,7.0 0.2,10.4 V11.4 H6.6"/><path transform="translate(9.30,0)" d="M0.2,2.6 C1.3,1.9 2.3,1.0 3.0,0 V11.4"/><path transform="translate(15.20,0)" d="M2.7,0 C1.0,0 0,1.5 0,3.6 V7.8 C0,9.9 1.0,11.4 2.7,11.4 C4.4,11.4 5.4,9.9 5.4,7.8 V3.6 C5.4,1.5 4.4,0 2.7,0 Z"/></g>
<g transform="translate(405.4,457) scale(0.9) translate(-10.75,-5.70)" fill="none" stroke="#2a2a2a" stroke-width="1.11" stroke-linecap="round" stroke-linejoin="round"><path transform="translate(0.00,0)" d="M0.2,2.6 C1.3,1.9 2.3,1.0 3.0,0 V11.4"/><path transform="translate(5.90,0)" d="M6.6,3.4 C6.6,5.4 5.3,6.8 3.4,6.8 C1.5,6.8 0.2,5.4 0.2,3.4 C0.2,1.4 1.5,0 3.4,0 C5.3,0 6.6,1.4 6.6,3.4 C6.6,7.0 4.8,9.8 1.8,11.4"/><path transform="translate(15.00,0)" d="M6.0,0 H1.0 L0.5,5.0 C1.2,4.5 2.1,4.2 3.1,4.2 C5.1,4.2 6.5,5.6 6.5,7.8 C6.5,10 5.1,11.4 3.1,11.4 C1.8,11.4 0.7,10.8 0.1,9.8"/></g>
<g transform="translate(256,553.6) scale(0.9) translate(-7.25,-5.70)" fill="none" stroke="#2a2a2a" stroke-width="1.11" stroke-linecap="round" stroke-linejoin="round"><path transform="translate(0.00,0)" d="M6.6,3.4 C6.6,5.4 5.3,6.8 3.4,6.8 C1.5,6.8 0.2,5.4 0.2,3.4 C0.2,1.4 1.5,0 3.4,0 C5.3,0 6.6,1.4 6.6,3.4 C6.6,7.0 4.8,9.8 1.8,11.4"/><path transform="translate(9.10,0)" d="M2.7,0 C1.0,0 0,1.5 0,3.6 V7.8 C0,9.9 1.0,11.4 2.7,11.4 C4.4,11.4 5.4,9.9 5.4,7.8 V3.6 C5.4,1.5 4.4,0 2.7,0 Z"/></g>
<g transform="translate(594.4,553.6) scale(0.9) translate(-7.55,-5.70)" fill="none" stroke="#2a2a2a" stroke-width="1.11" stroke-linecap="round" stroke-linejoin="round"><path transform="translate(0.00,0)" d="M0,0.3 H6.3 L1.4,11.4"/><path transform="translate(8.60,0)" d="M5.8,1.0 C5.2,0.4 4.3,0 3.3,0 C1.3,0 0.1,2.0 0.1,5.6 V7.6 C0.1,9.9 1.4,11.4 3.3,11.4 C5.2,11.4 6.5,9.9 6.5,7.9 C6.5,6 5.2,4.6 3.3,4.6 C1.7,4.6 0.5,5.5 0.1,6.8"/></g>
<g transform="translate(109.7,532) rotate(-90) scale(0.9) translate(-3.40,-5.70)" fill="none" stroke="#2a2a2a" stroke-width="1.11" stroke-linecap="round" stroke-linejoin="round"><path transform="translate(0.00,0)" d="M6.6,3.4 C6.6,5.4 5.3,6.8 3.4,6.8 C1.5,6.8 0.2,5.4 0.2,3.4 C0.2,1.4 1.5,0 3.4,0 C5.3,0 6.6,1.4 6.6,3.4 C6.6,7.0 4.8,9.8 1.8,11.4"/></g>
<g transform="translate(702,508) rotate(-90) scale(0.9) translate(-7.70,-5.70)" fill="none" stroke="#2a2a2a" stroke-width="1.11" stroke-linecap="round" stroke-linejoin="round"><path transform="translate(0.00,0)" d="M0.3,3.0 C0.4,1.2 1.7,0 3.3,0 C5.0,0 6.3,1.2 6.3,3.0 C6.3,6.0 0.2,7.0 0.2,10.4 V11.4 H6.6"/><path transform="translate(8.90,0)" d="M6.0,0 H1.0 L0.5,5.0 C1.2,4.5 2.1,4.2 3.1,4.2 C5.1,4.2 6.5,5.6 6.5,7.8 C6.5,10 5.1,11.4 3.1,11.4 C1.8,11.4 0.7,10.8 0.1,9.8"/></g>
<g transform="translate(438.4,517.8) skewY(-17) scale(0.956140350877193) translate(-17.25,-5.70)" fill="none" stroke="#2a2a2a" stroke-width="1.05" stroke-linecap="round" stroke-linejoin="round"><path transform="translate(0.00,0)" d="M3.1,2.6 C1.4,2.6 0.1,4.4 0.1,6.9 C0.1,9.4 1.4,11.2 3.1,11.2 C4.8,11.2 6.1,9.4 6.1,6.9 C6.1,4.4 4.8,2.6 3.1,2.6 Z M3.1,1.0 V13.0"/><path transform="translate(8.90,0)" d="M0.2,2.6 C1.3,1.9 2.3,1.0 3.0,0 V11.4"/><path transform="translate(14.80,0)" d="M0.3,3.0 C0.4,1.2 1.7,0 3.3,0 C5.0,0 6.3,1.2 6.3,3.0 C6.3,6.0 0.2,7.0 0.2,10.4 V11.4 H6.6"/><path transform="translate(23.90,0)" d="M1.5,10.2 L0.4,12.8"/><path transform="translate(28.20,0)" d="M0,0.3 H6.3 L1.4,11.4"/></g>
<path d="M763.5,476.5 H770.5 V542.5 H763.5 Z" stroke="#1e1e1e" stroke-width="1.0" fill="none"/>
<line x1="763" y1="481.5" x2="770.6" y2="481.5" stroke="#1e1e1e" stroke-width="0.9"/>
<line x1="763" y1="536.5" x2="770.6" y2="536.5" stroke="#1e1e1e" stroke-width="0.9"/>
<path d="M770.6,479.2 H857.6 A5,5 0 0 1 862.6,484.2 V537.4 A2,2 0 0 1 860.6,539.4 H770.6" stroke="#1e1e1e" stroke-width="1.0" fill="none"/>
<line x1="776.6" y1="484.5" x2="862.4" y2="484.5" stroke="#1e1e1e" stroke-width="0.9"/>
<line x1="776.6" y1="536.5" x2="862.4" y2="536.5" stroke="#1e1e1e" stroke-width="0.9"/>
<line x1="776.5" y1="479.2" x2="776.5" y2="539.4" stroke="#1e1e1e" stroke-width="1.0"/>
<line x1="841.5" y1="479.2" x2="841.5" y2="539.4" stroke="#1e1e1e" stroke-width="1.0"/>
<path d="M763,493 C760.5,500 760.5,518 763,525" stroke="#1e1e1e" stroke-width="1.0" fill="none"/>
<path d="M762,506 V520" stroke="#1e1e1e" stroke-width="1.8" fill="none"/>
<path d="M862.6,511.2 H864.5 C866.5,511.2 867.2,514 867.2,518.4 C867.2,522.8 866.5,525.6 864.5,525.6 H862.6" stroke="#1e1e1e" stroke-width="1.0" fill="none"/>
<path d="M867,512.2 H951 L952.8,514.5 V522.6 L951,525 H867" stroke="#1e1e1e" stroke-width="1.0" fill="none"/>
<line x1="867" y1="514.5" x2="952.5" y2="514.5" stroke="#1e1e1e" stroke-width="0.9"/>
<line x1="867" y1="518.5" x2="952.8" y2="518.5" stroke="#1e1e1e" stroke-width="0.9"/>
<line x1="867" y1="522.5" x2="952.5" y2="522.5" stroke="#1e1e1e" stroke-width="0.9"/>
<line x1="753" y1="476.5" x2="770" y2="476.5" stroke="#ff00ff" stroke-width="1.0"/>
<line x1="741" y1="479.5" x2="775" y2="479.5" stroke="#ff00ff" stroke-width="1.0"/>
<line x1="741" y1="539.5" x2="772" y2="539.5" stroke="#ff00ff" stroke-width="1.0"/>
<line x1="753" y1="542.5" x2="770" y2="542.5" stroke="#ff00ff" stroke-width="1.0"/>
<line x1="757.5" y1="462" x2="757.5" y2="476" stroke="#00ffff" stroke-width="1.0"/>
<line x1="757.5" y1="480" x2="757.5" y2="490" stroke="#00ffff" stroke-width="1.0"/>
<line x1="757.5" y1="529" x2="757.5" y2="539" stroke="#00ffff" stroke-width="1.0"/>
<line x1="757.5" y1="543.5" x2="757.5" y2="561.5" stroke="#00ffff" stroke-width="1.0"/>
<line x1="745.5" y1="481" x2="745.5" y2="538" stroke="#00ffff" stroke-width="1.0"/>
<path d="M745.30,481.00 L744.20,485.00 L746.40,485.00 Z" fill="#00ffff"/>
<path d="M745.30,538.00 L744.20,534.00 L746.40,534.00 Z" fill="#00ffff"/>
<g transform="translate(750.7,467.9) rotate(-90) scale(0.9) translate(-1.60,-5.70)" fill="none" stroke="#2a2a2a" stroke-width="1.11" stroke-linecap="round" stroke-linejoin="round"><path transform="translate(0.00,0)" d="M0.2,2.6 C1.3,1.9 2.3,1.0 3.0,0 V11.4"/></g>
<g transform="translate(739,511) rotate(-90) scale(0.9) translate(-7.70,-5.70)" fill="none" stroke="#2a2a2a" stroke-width="1.11" stroke-linecap="round" stroke-linejoin="round"><path transform="translate(0.00,0)" d="M0.3,3.0 C0.4,1.2 1.7,0 3.3,0 C5.0,0 6.3,1.2 6.3,3.0 C6.3,6.0 0.2,7.0 0.2,10.4 V11.4 H6.6"/><path transform="translate(8.90,0)" d="M0.3,1.8 C0.9,0.7 2,0 3.2,0 C4.9,0 6.1,1.1 6.1,2.8 C6.1,4.5 4.9,5.5 3.0,5.5 C5.1,5.5 6.5,6.7 6.5,8.4 C6.5,10.2 5.1,11.4 3.2,11.4 C1.8,11.4 0.7,10.8 0.1,9.6"/></g>
<rect x="138" y="609.3" width="551.75" height="8.1" fill="none" stroke="#1e1e1e" stroke-width="1.0"/>
<line x1="143.5" y1="609.3" x2="143.5" y2="617.4" stroke="#1e1e1e" stroke-width="1.0"/>
<line x1="684.5" y1="609.3" x2="684.5" y2="617.4" stroke="#1e1e1e" stroke-width="1.0"/>
<path d="M144.8,609.8 L151,617.2 M170.8,609.8 L165.2,617.2" stroke="#1e1e1e" stroke-width="1.0" fill="none"/>
<path d="M657.25,609.8 L662.25,617.2 M683,609.8 L676.9,617.2" stroke="#1e1e1e" stroke-width="1.0" fill="none"/>
<line x1="146" y1="610.5" x2="170" y2="610.5" stroke="#555" stroke-width="1.2" stroke-dasharray="1,0.6"/>
<line x1="658" y1="610.5" x2="682" y2="610.5" stroke="#555" stroke-width="1.2" stroke-dasharray="1,0.6"/>
<line x1="158.5" y1="609.5" x2="158.5" y2="617" stroke="#ff0000" stroke-width="1.0"/>
<line x1="669.5" y1="609.5" x2="669.5" y2="617" stroke="#ff0000" stroke-width="1.0"/>
<path d="M367.5,609.3 V607 C367.5,606 368.5,606 369.5,606 H379 C380,606 381,606 381,607 V609.3" stroke="#1e1e1e" stroke-width="1.0" fill="none"/>
<path d="M474.5,609.3 C475,607.6 476,607.6 477,607.6 H503 C504,607.6 505.5,607.6 505.75,609.3" stroke="#1e1e1e" stroke-width="1.3" fill="none"/>
<path d="M208,618.3 L204.1,622 V688 A20.75,20.75 0 0 0 224.85,708.75 H602.5 A20.6,20.6 0 0 0 623.1,688.15 V621.5 L619.5,618.2" stroke="#555" stroke-width="1.0" fill="none"/>
<rect x="204.6" y="622" width="1.8" height="45" fill="#ddd"/>
<path d="M207.2,667.2 V622 A1.6,1.6 0 0 1 208.8,620.4 H520" stroke="#1e1e1e" stroke-width="2.3" fill="none"/>
<path d="M541,620.4 H618.4 A1.6,1.6 0 0 1 620,622 V687.5 A18.1,18.1 0 0 1 601.9,705.6 H540" stroke="#1e1e1e" stroke-width="2.3" fill="none"/>
<path d="M460,705.6 H225.5 A18.1,18.1 0 0 1 207.4,687.5" stroke="#1e1e1e" stroke-width="2.4" fill="none"/>
<line x1="520" y1="619.5" x2="541" y2="619.5" stroke="#1e1e1e" stroke-width="0.9"/>
<line x1="460" y1="707.5" x2="540" y2="707.5" stroke="#1e1e1e" stroke-width="0.9"/>
<line x1="206.5" y1="667" x2="206.5" y2="688" stroke="#1e1e1e" stroke-width="0.9"/>
<circle cx="222.2" cy="634.2" r="7.8" stroke="#1e1e1e" stroke-width="1.3" fill="none"/>
<path d="M217.6,634.2 H226.79999999999998 M222.2,629.6 V638.8000000000001" stroke="#1e1e1e" stroke-width="3.0" fill="none"/>
<path d="M220.0,634.2 Q221.79999999999998,633.8000000000001 222.2,632.0 Q222.6,633.8000000000001 224.39999999999998,634.2 Q222.6,634.6 222.2,636.4000000000001 Q221.79999999999998,634.6 220.0,634.2 Z" fill="#fff"/>
<circle cx="218.79999999999998" cy="634.2" r="0.5" fill="#999"/>
<circle cx="225.6" cy="634.2" r="0.5" fill="#999"/>
<circle cx="222.2" cy="630.8000000000001" r="0.5" fill="#999"/>
<circle cx="222.2" cy="637.6" r="0.5" fill="#999"/>
<circle cx="222.2" cy="691.8" r="7.8" stroke="#1e1e1e" stroke-width="1.3" fill="none"/>
<path d="M217.6,691.8 H226.79999999999998 M222.2,687.1999999999999 V696.4" stroke="#1e1e1e" stroke-width="3.0" fill="none"/>
<path d="M220.0,691.8 Q221.79999999999998,691.4 222.2,689.5999999999999 Q222.6,691.4 224.39999999999998,691.8 Q222.6,692.1999999999999 222.2,694.0 Q221.79999999999998,692.1999999999999 220.0,691.8 Z" fill="#fff"/>
<circle cx="218.79999999999998" cy="691.8" r="0.5" fill="#999"/>
<circle cx="225.6" cy="691.8" r="0.5" fill="#999"/>
<circle cx="222.2" cy="688.4" r="0.5" fill="#999"/>
<circle cx="222.2" cy="695.1999999999999" r="0.5" fill="#999"/>
<circle cx="605.25" cy="634.2" r="7.8" stroke="#1e1e1e" stroke-width="1.3" fill="none"/>
<path d="M600.65,634.2 H609.85 M605.25,629.6 V638.8000000000001" stroke="#1e1e1e" stroke-width="3.0" fill="none"/>
<path d="M603.05,634.2 Q604.85,633.8000000000001 605.25,632.0 Q605.65,633.8000000000001 607.45,634.2 Q605.65,634.6 605.25,636.4000000000001 Q604.85,634.6 603.05,634.2 Z" fill="#fff"/>
<circle cx="601.85" cy="634.2" r="0.5" fill="#999"/>
<circle cx="608.65" cy="634.2" r="0.5" fill="#999"/>
<circle cx="605.25" cy="630.8000000000001" r="0.5" fill="#999"/>
<circle cx="605.25" cy="637.6" r="0.5" fill="#999"/>
<circle cx="605.25" cy="691.8" r="7.8" stroke="#1e1e1e" stroke-width="1.3" fill="none"/>
<path d="M600.65,691.8 H609.85 M605.25,687.1999999999999 V696.4" stroke="#1e1e1e" stroke-width="3.0" fill="none"/>
<path d="M603.05,691.8 Q604.85,691.4 605.25,689.5999999999999 Q605.65,691.4 607.45,691.8 Q605.65,692.1999999999999 605.25,694.0 Q604.85,692.1999999999999 603.05,691.8 Z" fill="#fff"/>
<circle cx="601.85" cy="691.8" r="0.5" fill="#999"/>
<circle cx="608.65" cy="691.8" r="0.5" fill="#999"/>
<circle cx="605.25" cy="688.4" r="0.5" fill="#999"/>
<circle cx="605.25" cy="695.1999999999999" r="0.5" fill="#999"/>
<path d="M198.4,670.5 H185.6 V684.4 H198.4" stroke="#1e1e1e" stroke-width="1.0" fill="none"/>
<path d="M203.6,661.8 H203 C200,661.8 198.2,664 198.2,667 V688 C198.2,691 200,693 203,693 H203.6" stroke="#1e1e1e" stroke-width="1.0" fill="none"/>
<path d="M185.6,670.5 C160,670.5 137,684 126.4,708.4" stroke="#1e1e1e" stroke-width="1.0" fill="none"/>
<path d="M185.6,684.4 C165,684.4 147,694 137.6,713.2" stroke="#1e1e1e" stroke-width="1.0" fill="none"/>
<line x1="126.4" y1="708.4" x2="137.6" y2="713.2" stroke="#1e1e1e" stroke-width="1.0"/>
<line x1="126.4" y1="708.4" x2="86.4" y2="794.0" stroke="#1e1e1e" stroke-width="1.0"/>
<line x1="130.13" y1="710.0" x2="90.13" y2="795.6" stroke="#1e1e1e" stroke-width="1.0"/>
<line x1="133.87" y1="711.6" x2="93.87" y2="797.2" stroke="#1e1e1e" stroke-width="1.0"/>
<line x1="137.6" y1="713.2" x2="97.6" y2="798.8" stroke="#1e1e1e" stroke-width="1.0"/>
<line x1="86.4" y1="794" x2="97.6" y2="798.8" stroke="#1e1e1e" stroke-width="1.0"/>
<line x1="138.5" y1="587" x2="138.5" y2="609" stroke="#ff00ff" stroke-width="1.0"/>
<line x1="203.5" y1="586" x2="203.5" y2="617" stroke="#ff00ff" stroke-width="1.0"/>
<line x1="623.5" y1="586" x2="623.5" y2="617" stroke="#ff00ff" stroke-width="1.0"/>
<line x1="689.5" y1="586" x2="689.5" y2="609" stroke="#ff00ff" stroke-width="1.0"/>
<line x1="140" y1="590.5" x2="202" y2="590.5" stroke="#00ffff" stroke-width="1.0"/>
<path d="M140.00,590.60 L144.00,591.70 L144.00,589.50 Z" fill="#00ffff"/>
<path d="M202.00,590.60 L198.00,591.70 L198.00,589.50 Z" fill="#00ffff"/>
<line x1="205" y1="590.5" x2="622" y2="590.5" stroke="#00ffff" stroke-width="1.0"/>
<path d="M205.00,590.60 L209.00,591.70 L209.00,589.50 Z" fill="#00ffff"/>
<path d="M622.00,590.60 L618.00,591.70 L618.00,589.50 Z" fill="#00ffff"/>
<line x1="625" y1="590.5" x2="688" y2="590.5" stroke="#00ffff" stroke-width="1.0"/>
<path d="M625.00,590.60 L629.00,591.70 L629.00,589.50 Z" fill="#00ffff"/>
<path d="M688.00,590.60 L684.00,591.70 L684.00,589.50 Z" fill="#00ffff"/>
<line x1="145.5" y1="610" x2="145.5" y2="658.6" stroke="#ff00ff" stroke-width="1.0"/>
<line x1="170.5" y1="610" x2="170.5" y2="658.6" stroke="#ff00ff" stroke-width="1.0"/>
<line x1="150.5" y1="617.5" x2="150.5" y2="637.8" stroke="#ff00ff" stroke-width="1.0"/>
<line x1="164.5" y1="617.5" x2="164.5" y2="637.8" stroke="#ff00ff" stroke-width="1.0"/>
<line x1="152" y1="635.5" x2="199" y2="635.5" stroke="#00ffff" stroke-width="1.0"/>
<line x1="147" y1="655.5" x2="199" y2="655.5" stroke="#00ffff" stroke-width="1.0"/>
<line x1="112" y1="617.5" x2="136" y2="617.5" stroke="#ff00ff" stroke-width="1.0"/>
<line x1="112" y1="670.5" x2="182" y2="670.5" stroke="#ff00ff" stroke-width="1.0"/>
<line x1="112" y1="684.5" x2="182" y2="684.5" stroke="#ff00ff" stroke-width="1.0"/>
<line x1="118.5" y1="619" x2="118.5" y2="715.6" stroke="#00ffff" stroke-width="1.0"/>
<line x1="692" y1="609.5" x2="720" y2="609.5" stroke="#ff00ff" stroke-width="1.0"/>
<line x1="692" y1="617.5" x2="700" y2="617.5" stroke="#ff00ff" stroke-width="1.0"/>
<line x1="602" y1="708.5" x2="720" y2="708.5" stroke="#ff00ff" stroke-width="1.0"/>
<line x1="695.5" y1="600" x2="695.5" y2="608" stroke="#00ffff" stroke-width="1.0"/>
<line x1="695.5" y1="619" x2="695.5" y2="639" stroke="#00ffff" stroke-width="1.0"/>
<line x1="714.5" y1="611" x2="714.5" y2="707" stroke="#00ffff" stroke-width="1.0"/>
<path d="M714.80,611.00 L713.70,615.00 L715.90,615.00 Z" fill="#00ffff"/>
<path d="M714.80,707.00 L713.70,703.00 L715.90,703.00 Z" fill="#00ffff"/>
<g transform="translate(176,584) scale(0.9) translate(-7.70,-5.70)" fill="none" stroke="#2a2a2a" stroke-width="1.11" stroke-linecap="round" stroke-linejoin="round"><path transform="translate(0.00,0)" d="M0.3,3.0 C0.4,1.2 1.7,0 3.3,0 C5.0,0 6.3,1.2 6.3,3.0 C6.3,6.0 0.2,7.0 0.2,10.4 V11.4 H6.6"/><path transform="translate(8.90,0)" d="M6.0,0 H1.0 L0.5,5.0 C1.2,4.5 2.1,4.2 3.1,4.2 C5.1,4.2 6.5,5.6 6.5,7.8 C6.5,10 5.1,11.4 3.1,11.4 C1.8,11.4 0.7,10.8 0.1,9.8"/></g>
<g transform="translate(408.75,583.75) scale(0.9) translate(-10.05,-5.70)" fill="none" stroke="#2a2a2a" stroke-width="1.11" stroke-linecap="round" stroke-linejoin="round"><path transform="translate(0.00,0)" d="M0.2,2.6 C1.3,1.9 2.3,1.0 3.0,0 V11.4"/><path transform="translate(5.90,0)" d="M5.8,1.0 C5.2,0.4 4.3,0 3.3,0 C1.3,0 0.1,2.0 0.1,5.6 V7.6 C0.1,9.9 1.4,11.4 3.3,11.4 C5.2,11.4 6.5,9.9 6.5,7.9 C6.5,6 5.2,4.6 3.3,4.6 C1.7,4.6 0.5,5.5 0.1,6.8"/><path transform="translate(14.70,0)" d="M2.7,0 C1.0,0 0,1.5 0,3.6 V7.8 C0,9.9 1.0,11.4 2.7,11.4 C4.4,11.4 5.4,9.9 5.4,7.8 V3.6 C5.4,1.5 4.4,0 2.7,0 Z"/></g>
<g transform="translate(651.7,583.7) scale(0.9) translate(-7.70,-5.70)" fill="none" stroke="#2a2a2a" stroke-width="1.11" stroke-linecap="round" stroke-linejoin="round"><path transform="translate(0.00,0)" d="M0.3,3.0 C0.4,1.2 1.7,0 3.3,0 C5.0,0 6.3,1.2 6.3,3.0 C6.3,6.0 0.2,7.0 0.2,10.4 V11.4 H6.6"/><path transform="translate(8.90,0)" d="M6.0,0 H1.0 L0.5,5.0 C1.2,4.5 2.1,4.2 3.1,4.2 C5.1,4.2 6.5,5.6 6.5,7.8 C6.5,10 5.1,11.4 3.1,11.4 C1.8,11.4 0.7,10.8 0.1,9.8"/></g>
<g transform="translate(184,627) scale(0.9) translate(-9.90,-5.70)" fill="none" stroke="#2a2a2a" stroke-width="1.11" stroke-linecap="round" stroke-linejoin="round"><path transform="translate(0.00,0)" d="M6.0,0 H1.0 L0.5,5.0 C1.2,4.5 2.1,4.2 3.1,4.2 C5.1,4.2 6.5,5.6 6.5,7.8 C6.5,10 5.1,11.4 3.1,11.4 C1.8,11.4 0.7,10.8 0.1,9.8"/><path transform="translate(9.00,0)" d="M1.5,10.2 L0.4,12.8"/><path transform="translate(13.30,0)" d="M6.0,0 H1.0 L0.5,5.0 C1.2,4.5 2.1,4.2 3.1,4.2 C5.1,4.2 6.5,5.6 6.5,7.8 C6.5,10 5.1,11.4 3.1,11.4 C1.8,11.4 0.7,10.8 0.1,9.8"/></g>
<g transform="translate(184,648.4) scale(0.9) translate(-10.05,-5.70)" fill="none" stroke="#2a2a2a" stroke-width="1.11" stroke-linecap="round" stroke-linejoin="round"><path transform="translate(0.00,0)" d="M6.6,3.4 C6.6,5.4 5.3,6.8 3.4,6.8 C1.5,6.8 0.2,5.4 0.2,3.4 C0.2,1.4 1.5,0 3.4,0 C5.3,0 6.6,1.4 6.6,3.4 C6.6,7.0 4.8,9.8 1.8,11.4"/><path transform="translate(9.30,0)" d="M1.5,10.2 L0.4,12.8"/><path transform="translate(13.60,0)" d="M6.0,0 H1.0 L0.5,5.0 C1.2,4.5 2.1,4.2 3.1,4.2 C5.1,4.2 6.5,5.6 6.5,7.8 C6.5,10 5.1,11.4 3.1,11.4 C1.8,11.4 0.7,10.8 0.1,9.8"/></g>
<g transform="translate(110,644) rotate(-90) scale(0.9) translate(-7.15,-5.70)" fill="none" stroke="#2a2a2a" stroke-width="1.11" stroke-linecap="round" stroke-linejoin="round"><path transform="translate(0.00,0)" d="M0.3,3.0 C0.4,1.2 1.7,0 3.3,0 C5.0,0 6.3,1.2 6.3,3.0 C6.3,6.0 0.2,7.0 0.2,10.4 V11.4 H6.6"/><path transform="translate(8.90,0)" d="M2.7,0 C1.0,0 0,1.5 0,3.6 V7.8 C0,9.9 1.0,11.4 2.7,11.4 C4.4,11.4 5.4,9.9 5.4,7.8 V3.6 C5.4,1.5 4.4,0 2.7,0 Z"/></g>
<g transform="translate(110,700) rotate(-90) scale(0.9) translate(-9.90,-5.70)" fill="none" stroke="#2a2a2a" stroke-width="1.11" stroke-linecap="round" stroke-linejoin="round"><path transform="translate(0.00,0)" d="M6.0,0 H1.0 L0.5,5.0 C1.2,4.5 2.1,4.2 3.1,4.2 C5.1,4.2 6.5,5.6 6.5,7.8 C6.5,10 5.1,11.4 3.1,11.4 C1.8,11.4 0.7,10.8 0.1,9.8"/><path transform="translate(9.00,0)" d="M1.5,10.2 L0.4,12.8"/><path transform="translate(13.30,0)" d="M6.0,0 H1.0 L0.5,5.0 C1.2,4.5 2.1,4.2 3.1,4.2 C5.1,4.2 6.5,5.6 6.5,7.8 C6.5,10 5.1,11.4 3.1,11.4 C1.8,11.4 0.7,10.8 0.1,9.8"/></g>
<g transform="translate(688,632) rotate(-90) scale(0.9) translate(-3.25,-5.70)" fill="none" stroke="#2a2a2a" stroke-width="1.11" stroke-linecap="round" stroke-linejoin="round"><path transform="translate(0.00,0)" d="M0.3,1.8 C0.9,0.7 2,0 3.2,0 C4.9,0 6.1,1.1 6.1,2.8 C6.1,4.5 4.9,5.5 3.0,5.5 C5.1,5.5 6.5,6.7 6.5,8.4 C6.5,10.2 5.1,11.4 3.2,11.4 C1.8,11.4 0.7,10.8 0.1,9.6"/></g>
<g transform="translate(707.6,661.3) rotate(-90) scale(0.9) translate(-7.90,-5.70)" fill="none" stroke="#2a2a2a" stroke-width="1.11" stroke-linecap="round" stroke-linejoin="round"><path transform="translate(0.00,0)" d="M0.3,1.8 C0.9,0.7 2,0 3.2,0 C4.9,0 6.1,1.1 6.1,2.8 C6.1,4.5 4.9,5.5 3.0,5.5 C5.1,5.5 6.5,6.7 6.5,8.4 C6.5,10.2 5.1,11.4 3.2,11.4 C1.8,11.4 0.7,10.8 0.1,9.6"/><path transform="translate(8.80,0)" d="M3.5,5.4 C1.7,5.4 0.6,4.4 0.6,2.7 C0.6,1.0 1.7,0 3.5,0 C5.3,0 6.4,1.0 6.4,2.7 C6.4,4.4 5.3,5.4 3.5,5.4 C1.4,5.4 0,6.6 0,8.4 C0,10.2 1.4,11.4 3.5,11.4 C5.6,11.4 7,10.2 7,8.4 C7,6.6 5.6,5.4 3.5,5.4 Z"/></g></svg>
</body></html>
